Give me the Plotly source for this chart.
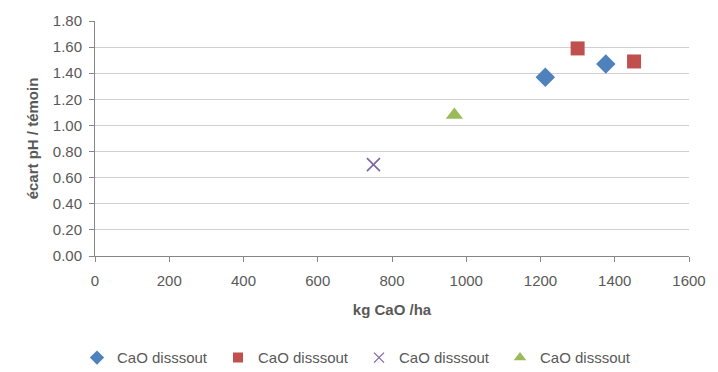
import plotly.graph_objects as go

# Quantité de CaO apportée (kg/ha) et écart de pH par rapport au témoin
series_names = ["CaO disssout", "CaO disssout", "CaO disssout", "CaO disssout"]
x_diamond = [1213, 1376]
y_diamond = [1.37, 1.47]
x_square = [1300, 1452]
y_square = [1.59, 1.49]
x_cross = [750]
y_cross = [0.70]
x_triangle = [968]
y_triangle = [1.08]

x_ticks = [0, 200, 400, 600, 800, 1000, 1200, 1400, 1600]
y_ticks = [0.0, 0.2, 0.4, 0.6, 0.8, 1.0, 1.2, 1.4, 1.6, 1.8]

font_family = "Liberation Sans, Arial, sans-serif"
text_color = "#595959"

# (x, y, symbol, size, colour, legend symbol size) for each series
series = [
    (x_diamond, y_diamond, "diamond", 15, "#4F81BD", 11),
    (x_square, y_square, "square", 14, "#C0504D", 10),
    (x_cross, y_cross, "x-thin", 13, "#8064A2", 10),
    (x_triangle, y_triangle, "triangle-up", 15, "#9BBB59", 11),
]

fig = go.Figure()
for i, (xs, ys, sym, size, color, leg_size) in enumerate(series):
    line = dict(width=1.6, color=color) if sym == "x-thin" else dict(width=0)
    fig.add_trace(go.Scatter(x=xs, y=ys, mode="markers", name=series_names[i],
                             showlegend=False, legendgroup=f"s{i}",
                             marker=dict(symbol=sym, size=size, color=color, line=line)))
for i, (xs, ys, sym, size, color, leg_size) in enumerate(series):
    line = dict(width=1.2, color=color) if sym == "x-thin" else dict(width=0)
    # legend key with a smaller symbol
    fig.add_trace(go.Scatter(x=[None], y=[None], mode="markers", name=series_names[i],
                             showlegend=True, legendgroup=f"s{i}",
                             marker=dict(symbol=sym, size=leg_size, color=color, line=line)))

fig.update_layout(
    width=718, height=372,
    margin=dict(l=95, r=29, t=15, b=116),
    paper_bgcolor="white", plot_bgcolor="white",
    font=dict(family=font_family, size=15, color=text_color),
    showlegend=True,
    legend=dict(orientation="h", xref="container", yref="container",
                x=0.5, xanchor="center", y=0.038, yanchor="middle",
                font=dict(size=15, color=text_color), itemsizing="trace",
                entrywidth=96, entrywidthmode="pixels",
                traceorder="normal", itemwidth=30, tracegroupgap=0),
    xaxis=dict(range=[0, 1600], tickvals=x_ticks, ticktext=[str(v) for v in x_ticks],
               showgrid=False, zeroline=False, showline=True, linecolor="#868686",
               linewidth=1, ticks="outside", ticklen=5, tickcolor="#868686",
               ticklabelstandoff=6,
               tickfont=dict(size=15, color=text_color),
               title=dict(text="<b>kg CaO /ha</b>", standoff=16,
                          font=dict(size=15, color=text_color))),
    yaxis=dict(range=[0, 1.8], tickvals=y_ticks, tickformat=".2f",
               showgrid=True, gridcolor="#D0D0D0", gridwidth=1, zeroline=False,
               showline=True, linecolor="#868686", linewidth=1,
               ticks="outside", ticklen=5, tickcolor="#868686",
               ticklabelstandoff=4,
               tickfont=dict(size=15, color=text_color),
               title=dict(text="<b>écart pH / témoin</b>", standoff=10,
                          font=dict(size=15, color=text_color))),
)

fig.write_html("out.html")
